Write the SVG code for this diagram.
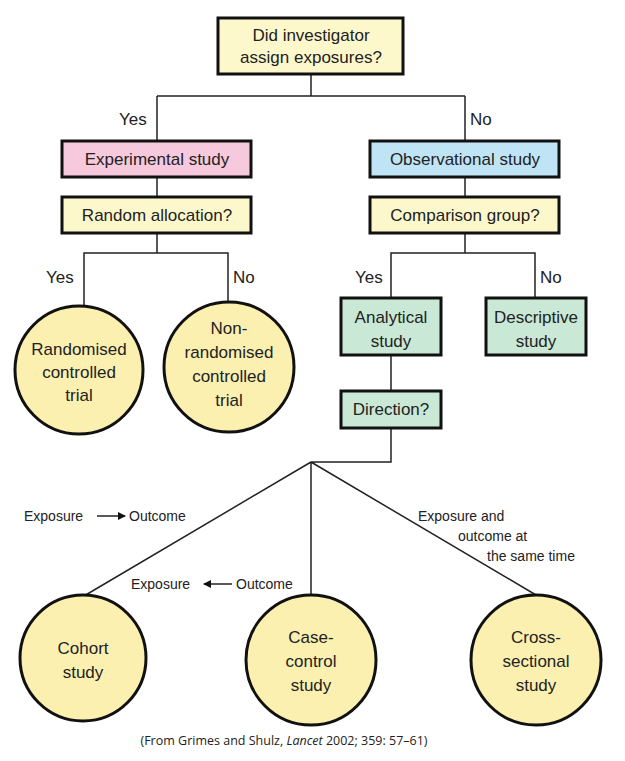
<svg xmlns="http://www.w3.org/2000/svg" width="625" height="761" viewBox="0 0 625 761">
<style>
text{font-family:"Liberation Sans",Arial,sans-serif;fill:#222;}
.n{font-size:17px;text-anchor:middle}
.l{font-size:17px}
.s{font-size:14px}
.b{stroke:#111;stroke-width:3}
.y{fill:#fdf8cc}.p{fill:#f7c9dc}.c{fill:#bfe4f6}.g{fill:#c9e8d5}
.ci{fill:#fbf0b0;stroke:#111;stroke-width:3}
.w{stroke:#222;stroke-width:1.5;fill:none}
</style>
<defs><marker id="a" markerWidth="8" markerHeight="8" refX="7" refY="4" orient="auto" markerUnits="userSpaceOnUse"><path d="M0,0L8,4L0,8z" fill="#111"/></marker></defs>
<rect width="625" height="761" fill="#fff"/>
<g id="connectors" class="w">
<path d="M311,74V96M157,96H465M157,96V141M465,96V141M157,177V197M465,177V197M157,233V253H84V305M84,253H228V302M465,233V253H391V298M391,253H535V298M391,355V391M391,428V462H311M311,462L84,596M311,462V595M311,462L536,595"/>
<path d="M97,516H125" marker-end="url(#a)"/>
<path d="M232,584H204" marker-end="url(#a)"/>
</g>
<text class="l" x="119" y="125">Yes</text>
<text class="l" x="470" y="125">No</text>
<text class="l" x="46" y="283">Yes</text>
<text class="l" x="233" y="283">No</text>
<text class="l" x="355" y="283">Yes</text>
<text class="l" x="540" y="283">No</text>
<text class="s" x="24" y="521">Exposure</text>
<text class="s" x="129" y="521">Outcome</text>
<text class="s" x="131" y="589">Exposure</text>
<text class="s" x="236" y="589">Outcome</text>
<text class="s" x="418" y="521">Exposure and</text>
<text class="s" x="458" y="541">outcome at</text>
<text class="s" x="487" y="561">the same time</text>
<g id="q1"><rect class="b y" x="218" y="18" width="185" height="56"/><text class="n" x="311" y="41">Did investigator</text><text class="n" x="311" y="63">assign exposures?</text></g>
<g id="exp"><rect class="b p" x="62" y="141" width="189" height="36"/><text class="n" x="157" y="165">Experimental study</text></g>
<g id="obs"><rect class="b c" x="370" y="141" width="189" height="36"/><text class="n" x="465" y="165">Observational study</text></g>
<g id="rand"><rect class="b y" x="62" y="197" width="189" height="36"/><text class="n" x="157" y="221">Random allocation?</text></g>
<g id="comp"><rect class="b y" x="370" y="197" width="189" height="36"/><text class="n" x="465" y="221">Comparison group?</text></g>
<g id="rct"><circle class="ci" cx="79" cy="370" r="64"/><text class="n" x="79" y="355">Randomised</text><text class="n" x="79" y="378">controlled</text><text class="n" x="79" y="401">trial</text></g>
<g id="nrct"><circle class="ci" cx="229" cy="367" r="65"/><text class="n" x="229" y="334">Non-</text><text class="n" x="229" y="358">randomised</text><text class="n" x="229" y="382">controlled</text><text class="n" x="229" y="406">trial</text></g>
<g id="anal"><rect class="b g" x="341" y="298" width="100" height="57"/><text class="n" x="391" y="323">Analytical</text><text class="n" x="391" y="347">study</text></g>
<g id="desc"><rect class="b g" x="486" y="298" width="100" height="57"/><text class="n" x="536" y="323">Descriptive</text><text class="n" x="536" y="347">study</text></g>
<g id="dir"><rect class="b g" x="341" y="391" width="100" height="37"/><text class="n" x="391" y="415">Direction?</text></g>
<g id="cohort"><circle class="ci" cx="83" cy="658" r="63"/><text class="n" x="83" y="654">Cohort</text><text class="n" x="83" y="678">study</text></g>
<g id="cc"><circle class="ci" cx="311" cy="660" r="65"/><text class="n" x="311" y="643">Case-</text><text class="n" x="311" y="667">control</text><text class="n" x="311" y="691">study</text></g>
<g id="cs"><circle class="ci" cx="536" cy="660" r="65"/><text class="n" x="536" y="643">Cross-</text><text class="n" x="536" y="667">sectional</text><text class="n" x="536" y="691">study</text></g>
<text x="284" y="745" style="font-size:12.5px;text-anchor:middle;font-family:'Open Sans',sans-serif">(From Grimes and Shulz, <tspan font-style="italic">Lancet</tspan> 2002; 359: 57–61)</text>
</svg>
